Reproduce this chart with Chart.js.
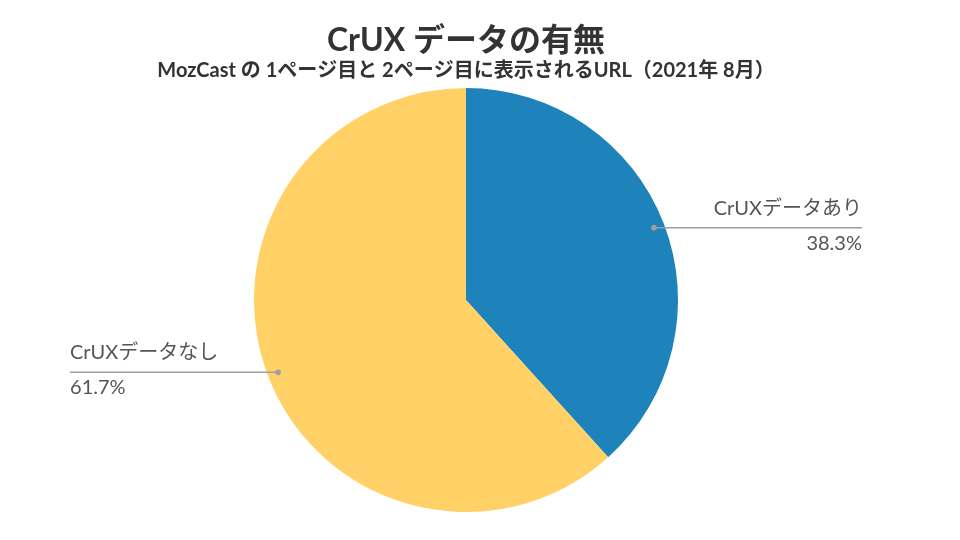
<!DOCTYPE html>
<html>
<head>
<meta charset="utf-8">
<script src="https://cdn.jsdelivr.net/npm/chart.js@4"></script>
<style>
  html, body { margin: 0; padding: 0; background: #fff; }
  #wrap { width: 960px; height: 540px; }
</style>
</head>
<body>
<div id="wrap"><canvas id="pie"></canvas></div>
<script>
// data
var categories = ['CrUXデータあり', 'CrUXデータなし'];
var shares = [38.3, 61.7];
var sliceColors = ['#1D83BA', '#FFD166'];

var FONT = "Lato, 'Noto Sans CJK JP', sans-serif";

// leader lines + labels drawn at each arc
var sliceLabels = {
     id: 'sliceLabels',
     afterDatasetsDraw: function(chart) {
          var ctx = chart.ctx;
          var meta = chart.getDatasetMeta(0);
          meta.data.forEach(function(arc, i) {
               var p = arc.getProps(['x', 'y', 'startAngle', 'endAngle', 'outerRadius'], true);
               var mid = (p.startAngle + p.endAngle) / 2;
               var dx = Math.cos(mid) * p.outerRadius * 0.95;
               var dy = Math.sin(mid) * p.outerRadius * 0.95;
               var px = p.x + dx, py = p.y + dy;
               var right = Math.cos(mid) >= 0;
               var ex = right ? px + 208 : px - 208;

               ctx.save();
               ctx.strokeStyle = '#9e9e9e';
               ctx.lineWidth = 1.5;
               ctx.beginPath();
               ctx.moveTo(px, py);
               ctx.lineTo(ex, py);
               ctx.stroke();
               ctx.fillStyle = '#9e9e9e';
               ctx.beginPath();
               ctx.arc(px, py, 2.8, 0, Math.PI * 2);
               ctx.fill();

               ctx.fillStyle = '#555555';
               ctx.font = '20px ' + FONT;
               ctx.textAlign = right ? 'right' : 'left';
               ctx.textBaseline = 'alphabetic';
               ctx.fillText(chart.data.labels[i], ex, py - 13);
               ctx.fillText(shares[i].toFixed(1) + '%', ex, py + 22);
               ctx.restore();
          });
     }
};

var pie = new Chart(document.getElementById('pie').getContext('2d'), {
     type: 'pie',
     data: {
          labels: categories,
          datasets: [{
               data: shares,
               backgroundColor: sliceColors,
               borderWidth: 0
          }]
     },
     options: {
          responsive: true,
          maintainAspectRatio: false,
          animation: false,
          layout: { padding: { left: 0, right: 28, top: 0, bottom: 28 } },
          plugins: {
               legend: { display: false },
               tooltip: { enabled: false },
               title: {
                    display: true,
                    text: 'CrUX データの有無',
                    color: '#333333',
                    font: { family: FONT, size: 32, weight: 'bold', lineHeight: 1.0 },
                    padding: { top: 25, bottom: 2 }
               },
               subtitle: {
                    display: true,
                    text: 'MozCast の 1ページ目と 2ページ目に表示されるURL（2021年 8月）',
                    color: '#333333',
                    font: { family: FONT, size: 20, weight: 'bold', lineHeight: 1.2 },
                    padding: { top: 0, bottom: 5 }
               }
          }
     },
     plugins: [sliceLabels]
});
</script>
</body>
</html>
